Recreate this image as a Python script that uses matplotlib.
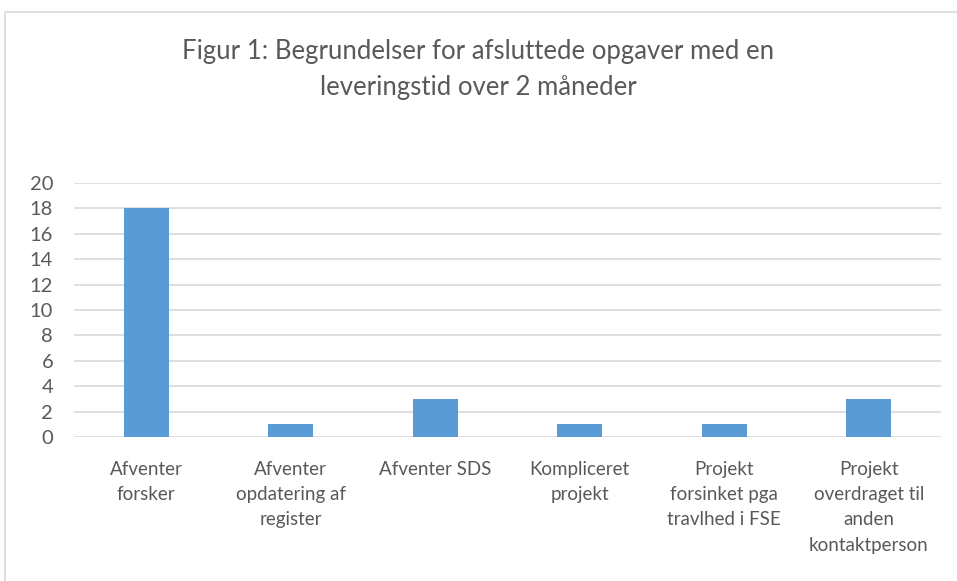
import matplotlib.pyplot as plt
from matplotlib.patches import Rectangle

# Data
categories = ["Afventer\nforsker", "Afventer\nopdatering af\nregister", "Afventer SDS",
              "Kompliceret\nprojekt", "Projekt\nforsinket pga\ntravlhed i FSE",
              "Projekt\noverdraget til\nanden\nkontaktperson"]
values = [18, 1, 3, 1, 1, 3]
yticks = list(range(0, 21, 2))

textcol = "#595959"
plt.rcParams['font.family'] = ['Lato', 'DejaVu Sans']

W, H = 957, 581
fig = plt.figure(figsize=(W / 100, H / 100), dpi=100)
ax = fig.add_axes([74 / W, 1 - 437 / H, (941 - 74) / W, (437 - 183) / H])

x = range(len(values))
ax.bar(x, values, width=0.31, color="#5b9bd5", zorder=3)
ax.set_xlim(-0.5, len(values) - 0.5)
ax.set_ylim(0, 20)
ax.set_yticks(yticks)
ax.set_xticks(list(x))
ax.set_xticklabels(categories, fontsize=13.5, color=textcol, linespacing=1.6)
ax.tick_params(axis='y', labelsize=14.5, labelcolor=textcol, length=0, pad=15)
ax.tick_params(axis='x', length=0, pad=17)
ax.grid(axis='y', color="#d9d9d9", linewidth=1.2, zorder=0)
for s in ax.spines.values():
    s.set_visible(False)

fig.text(0.5, 1 - 70 / H, "Figur 1: Begrundelser for afsluttede opgaver med en\nleveringstid over 2 måneder",
         ha='center', va='center', fontsize=18.5, color=textcol, linespacing=1.55)

# outer chart-area border
fig.patches.append(Rectangle((5 / W, -0.05), 1.2, 1 - 12 / H + 0.05, transform=fig.transFigure,
                             fill=False, edgecolor="#d9d9d9", linewidth=1.2))

fig.savefig("out.png", dpi=100)
